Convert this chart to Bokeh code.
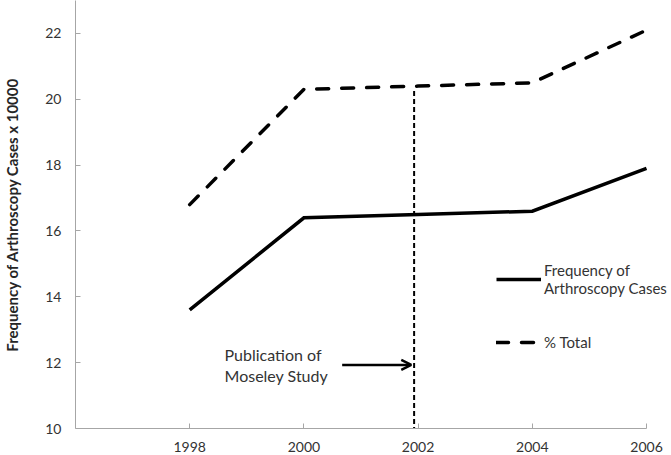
from bokeh.plotting import figure
from bokeh.models import (Range1d, FixedTicker, Legend, LegendItem, Arrow, OpenHead, Label)
from bokeh.embed import file_html
from bokeh.resources import INLINE

years = [1998, 2000, 2002, 2004, 2006]
freq_cases = [13.6, 16.4, 16.5, 16.6, 17.9]
pct_total = [16.8, 20.3, 20.4, 20.5, 22.1]
x_ticks = [1998, 2000, 2002, 2004, 2006]
y_ticks = [10, 12, 14, 16, 18, 20, 22]
moseley_year = 2002

FONT = "Lato"
TXT = "#333333"
AXC = "#a6a6a6"

p = figure(frame_width=597, frame_height=428, output_backend="svg", toolbar_location=None,
           x_range=Range1d(1996, 2006.455), y_range=Range1d(10, 23.0),
           min_border_left=74, min_border_top=0, min_border_right=0, min_border_bottom=0)
p.outline_line_color = None
p.grid.visible = False
p.background_fill_color = "white"

# axes
p.xaxis.ticker = FixedTicker(ticks=x_ticks)
p.xaxis.bounds = (1996, 2006)
p.yaxis.ticker = FixedTicker(ticks=y_ticks)
for ax in (p.xaxis[0], p.yaxis[0]):
    ax.axis_line_color = AXC
    ax.axis_line_width = 1
    ax.major_tick_line_color = AXC
    ax.major_tick_in = 5
    ax.major_tick_out = 0
    ax.minor_tick_line_color = None
    ax.major_label_text_font = FONT
    ax.major_label_text_font_size = "14px"
    ax.major_label_text_color = TXT
p.xaxis.major_label_standoff = 13
p.yaxis.major_label_standoff = 14
p.yaxis.axis_label = "Frequency of Arthroscopy Cases x 10000"
p.yaxis.axis_label_text_font = FONT
p.yaxis.axis_label_text_font_size = "15px"
p.yaxis.axis_label_text_font_style = "bold"
p.yaxis.axis_label_text_color = "#262626"
p.yaxis.axis_label_standoff = 21

# vertical dashed line at the Moseley publication
p.line([moseley_year - 0.07, moseley_year - 0.07], [20.25, 10.0], line_color="black",
       line_width=2, line_dash="5 3")

r1 = p.line(years, freq_cases, line_color="black", line_width=3.5, line_join="miter")
r2 = p.line(years, pct_total, line_color="black", line_width=3.5, line_dash="12 13",
            line_cap="round")

legend = Legend(items=[LegendItem(label="Frequency of\nArthroscopy Cases", renderers=[r1]),
                       LegendItem(label="% Total", renderers=[r2])],
                location=(421, 76), orientation="vertical", glyph_width=45, glyph_height=20,
                label_standoff=3, padding=0, margin=0, spacing=35,
                border_line_alpha=0, background_fill_alpha=0,
                label_text_font=FONT, label_text_font_size="15px", label_text_color=TXT,
                label_height=20)
p.add_layout(legend)

# annotation
p.add_layout(Arrow(end=OpenHead(size=10, line_width=2.5, line_color="black"),
                   x_start=2000.67, y_start=11.93, x_end=2001.88, y_end=11.93,
                   line_width=2.5, line_color="black"))
p.add_layout(Label(x=1998.61, y=12.24, text="Publication of", text_baseline="middle",
                   text_font=FONT, text_font_size="16px", text_color=TXT))
p.add_layout(Label(x=1998.61, y=11.60, text="Moseley Study", text_baseline="middle",
                   text_font=FONT, text_font_size="16px", text_color=TXT))

open("out.html", "w").write(file_html(p, INLINE))
